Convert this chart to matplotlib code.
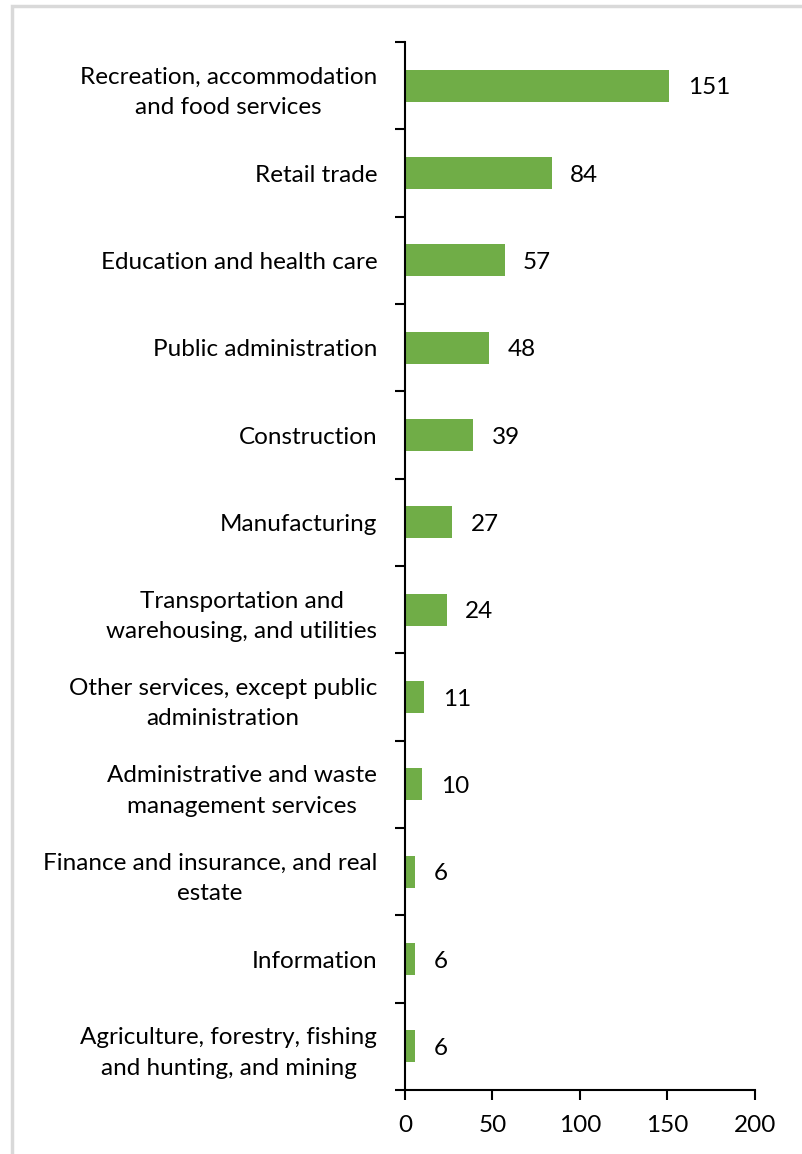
import numpy as np
import matplotlib.pyplot as plt
from matplotlib.patches import Rectangle

industries = [
    "Recreation, accommodation\nand food services",
    "Retail trade",
    "Education and health care",
    "Public administration",
    "Construction",
    "Manufacturing",
    "Transportation and\nwarehousing, and utilities",
    "Other services, except public\nadministration",
    "Administrative and waste\nmanagement services",
    "Finance and insurance, and real\nestate",
    "Information",
    "Agriculture, forestry, fishing\nand hunting, and mining",
]
counts = [151, 84, 57, 48, 39, 27, 24, 11, 10, 6, 6, 6]
xticks = [0, 50, 100, 150, 200]

plt.rcParams['font.family'] = ['Lato', 'DejaVu Sans']
fs = 17.5

fig = plt.figure(figsize=(8.03, 11.54), dpi=100)
# light frame round the chart area
fig.patches.append(Rectangle((12/803, -0.05), 1.1, 1 - 6/1154 + 0.05, transform=fig.transFigure,
                             fill=False, edgecolor='#d9d9d9', linewidth=2.5))
ax = fig.add_axes([405/803, 1 - 1090/1154, 350/803, 1048/1154])

n = len(industries)
pos = np.arange(n)
ax.barh(pos, counts, height=0.37, color='#70ad47')
for p, v in zip(pos, counts):
    ax.text(v + 10.5, p, str(v), va='center_baseline', ha='left', fontsize=fs)

ax.set_xlim(0, 200)
ax.set_ylim(n - 0.5, -0.5)
ax.set_xticks(xticks)
ax.set_xticklabels([str(t) for t in xticks], fontsize=fs)
ax.set_yticks(pos)
ax.set_yticklabels(industries, fontsize=fs)
for lab in ax.get_yticklabels():
    lab.set_multialignment('center')
    lab.set_linespacing(1.55)
    lab.set_verticalalignment('center_baseline')
ax.set_yticks(np.arange(n + 1) - 0.5, minor=True)
ax.tick_params(axis='y', which='major', length=0, pad=20)
ax.tick_params(axis='y', which='minor', length=7, width=1.5, direction='out')
ax.tick_params(axis='x', length=7, width=1.5, direction='out', pad=11)

for s in ['top', 'right']:
    ax.spines[s].set_visible(False)
for s in ['left', 'bottom']:
    ax.spines[s].set_linewidth(1.5)

fig.savefig('out.png', dpi=100)
